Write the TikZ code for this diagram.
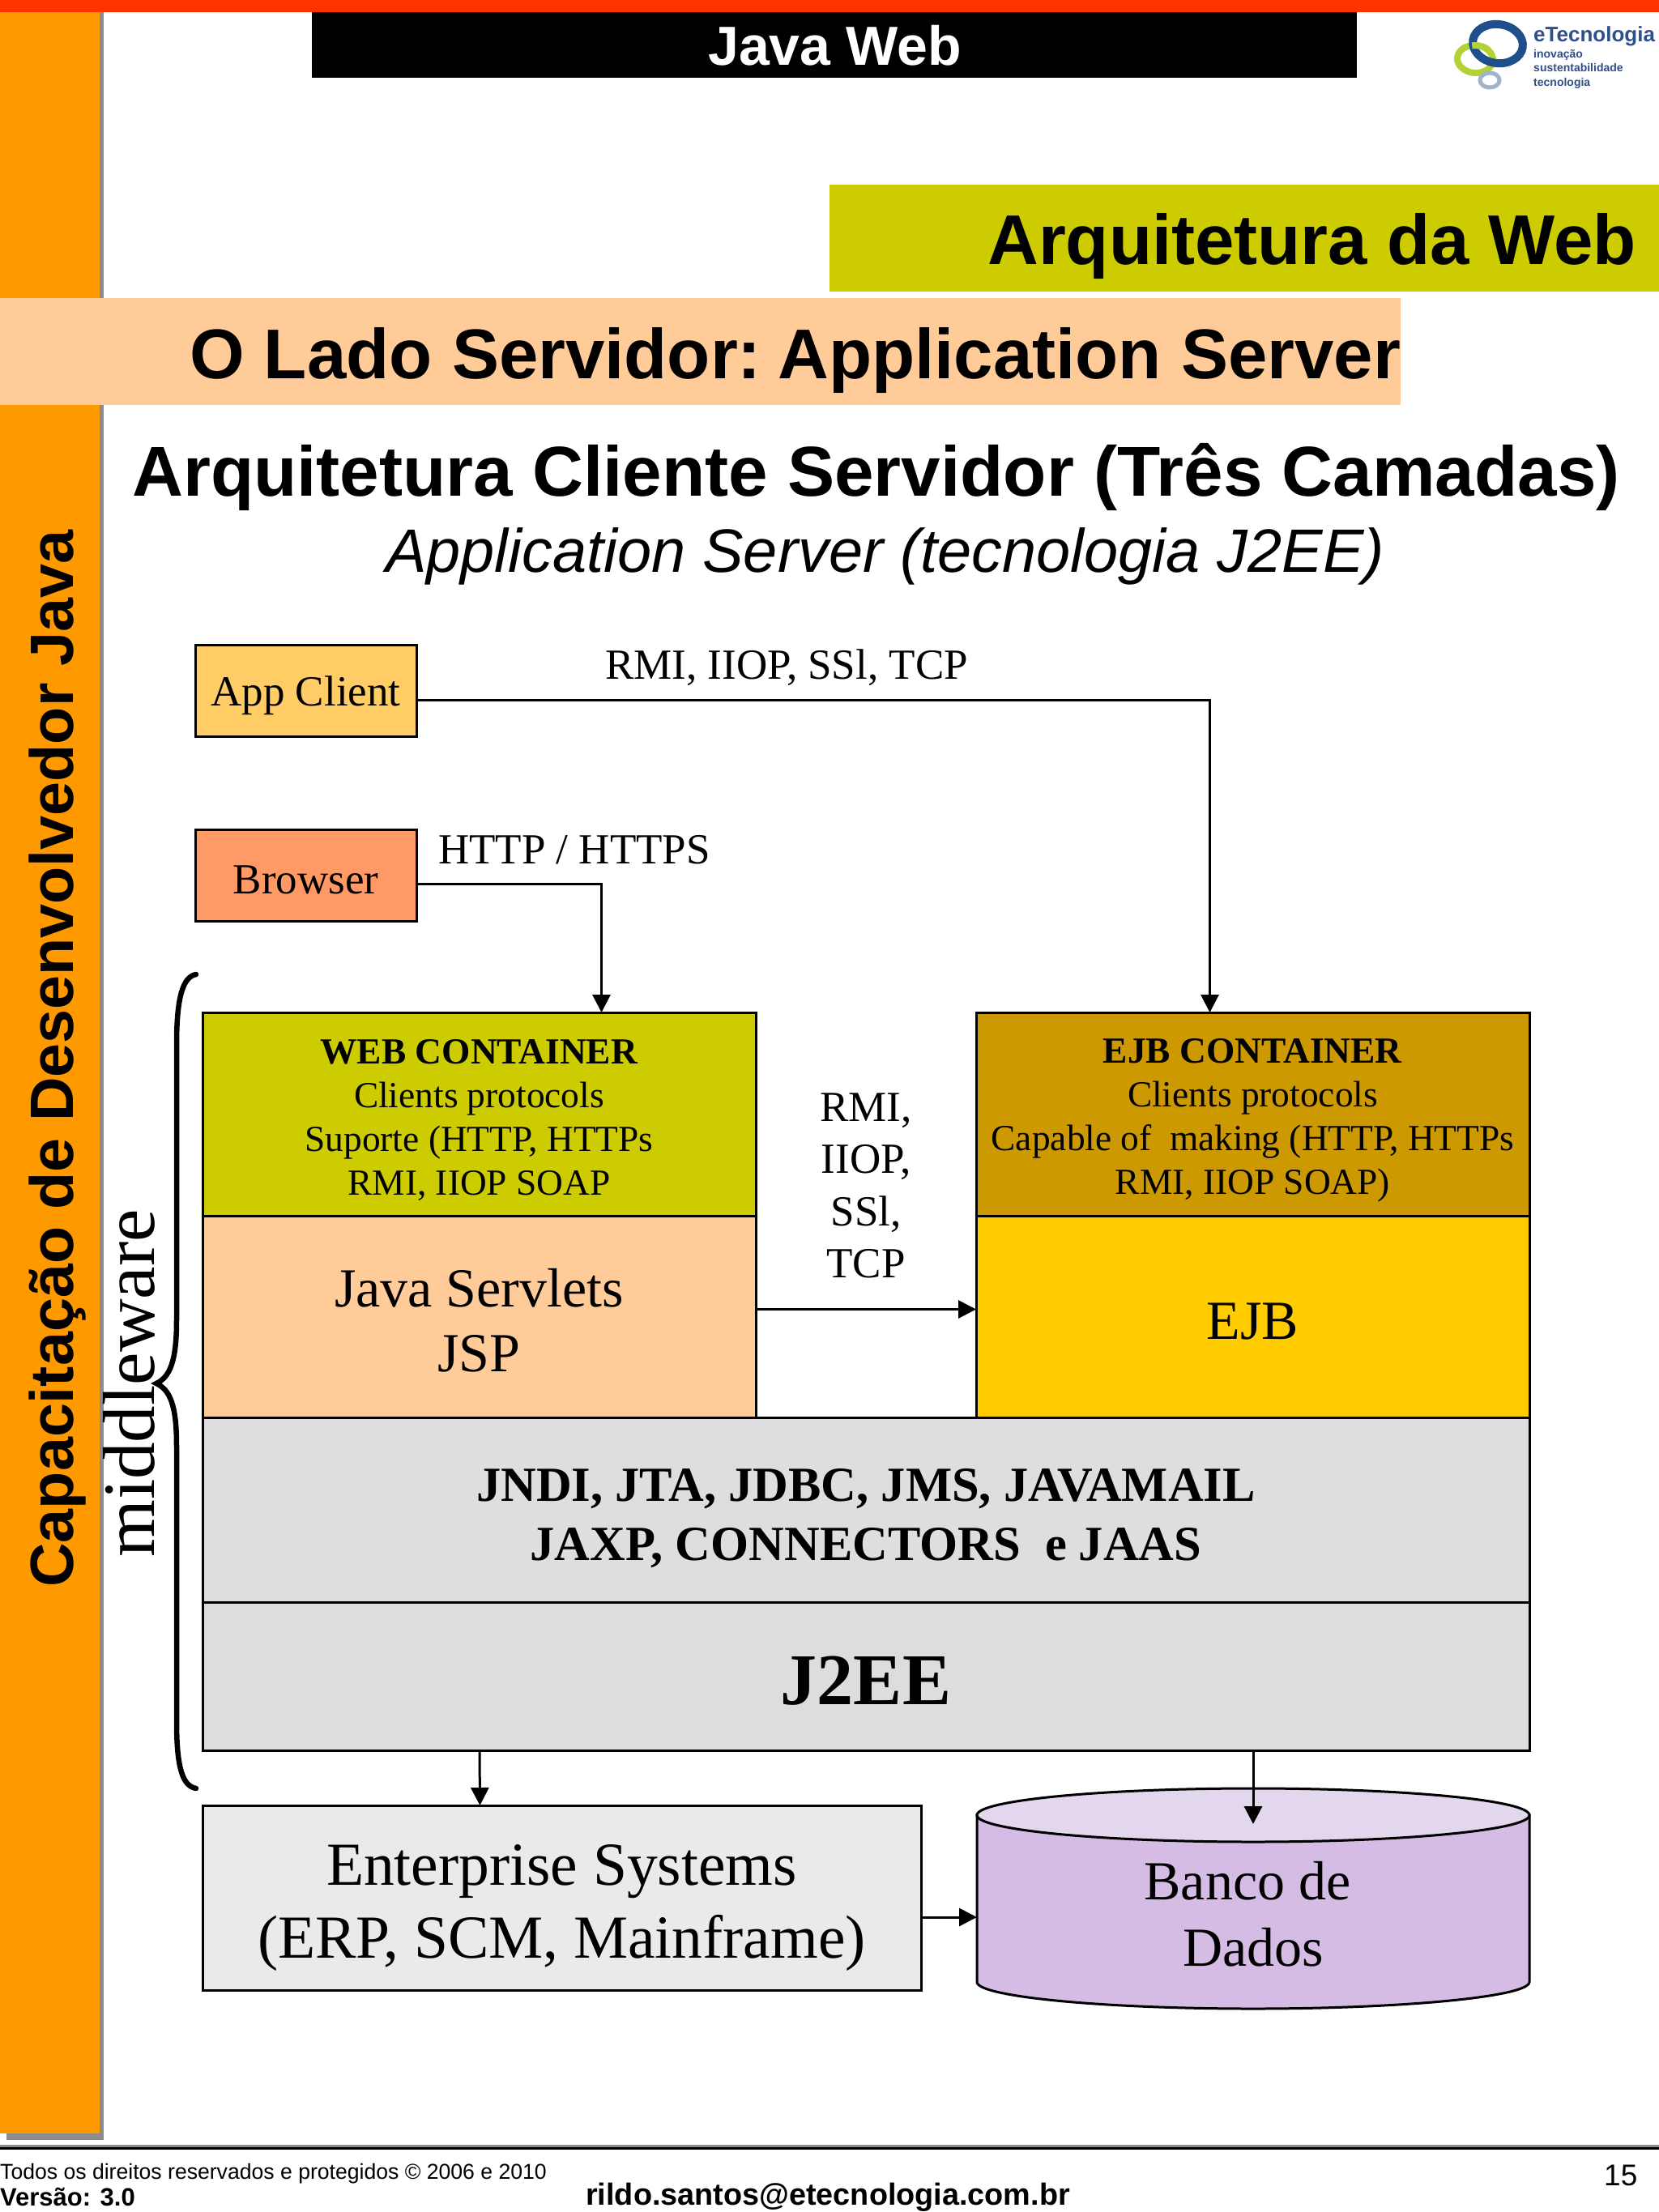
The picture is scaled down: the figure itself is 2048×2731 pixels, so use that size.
\documentclass[tikz,border=0pt]{standalone}
\usepackage{fontspec}
\usepackage{tikz}
\usetikzlibrary{arrows.meta}
\setmainfont{Liberation Serif}
\newfontfamily\headfont{Liberation Sans}
\newcommand{\fsz}[2]{\fontsize{#1}{#2}\selectfont}
\newcommand{\lift}[1]{\rule{0pt}{#1pt}}
\definecolor{barred}{HTML}{FF3300}
\definecolor{barorange}{HTML}{FF9900}
\definecolor{barshadow}{HTML}{8C8C8C}
\definecolor{lime}{HTML}{CCCC00}
\definecolor{peach}{HTML}{FFCC99}
\definecolor{ochre}{HTML}{CC9900}
\definecolor{gold}{HTML}{FFCC00}
\definecolor{appfill}{HTML}{FFCC66}
\definecolor{browserfill}{HTML}{FF9966}
\definecolor{apifill}{HTML}{DFDDDF}
\definecolor{jeefill}{HTML}{DDDDDD}
\definecolor{sysfill}{HTML}{EAEAEA}
\definecolor{dbbody}{HTML}{D4BCE4}
\definecolor{dbtop}{HTML}{E3D7EE}
\definecolor{logoblue}{HTML}{1F4E8C}
\definecolor{logotext}{HTML}{2F4F8A}
\definecolor{logolime}{HTML}{B2D235}
\definecolor{logogray}{HTML}{9DB4CC}
\tikzset{
  box/.style={draw=black, line width=3pt, inner sep=0pt, outer sep=0pt, anchor=north west, align=center},
  flow/.style={draw=black, line width=3pt, -{Triangle[width=22pt,length=22pt]}},
  sans/.style={inner sep=0pt, anchor=base west, text=black},
  label/.style={inner sep=0pt, anchor=base, align=center, font=\fsz{53}{64.5}}
}
\begin{document}
\begin{tikzpicture}[x=1pt,y=-1pt]
  \useasboundingbox (0,0) rectangle (2048,2731);
  \fill[white] (0,0) rectangle (2048,2731);
  \fill[barshadow] (8,14) rectangle (128,2642);
  \fill[barorange] (0,14) rectangle (123,2634);
  \fill[barred] (0,0) rectangle (2048,15);
  \fill[black] (385,15) rectangle (1675,96);
  \fill[lime] (1024,228) rectangle (2048,360);
  \fill[peach] (0,368) rectangle (1729,500);
  \fill[barshadow] (0,2648) rectangle (2048,2651);
  \fill[black] (0,2651) rectangle (2048,2654);

  \node[sans, text=white, font=\headfont\bfseries\fsz{68}{70}] (title) at (874,80) {Java Web};
  \node[sans, font=\headfont\bfseries\fsz{87}{90}] (section) at (1219,326) {Arquitetura da Web};
  \node[sans, font=\headfont\bfseries\fsz{87}{90}] (topic) at (234,467) {O Lado Servidor:\hspace{-12pt} Application Server};
  \node[sans, font=\headfont\bfseries\fsz{87.2}{90}] (heading) at (163,612) {Arquitetura Cliente Servidor (Três Camadas)};
  \node[sans, font=\headfont\itshape\fsz{75.7}{80}] (subheading) at (476,706) {Application Server (tecnologia J2EE)};
  \node[inner sep=0pt, anchor=base, rotate=90, font=\headfont\bfseries\fsz{75.5}{80}] (course) at (90,1307) {Capacitação de Desenvolvedor Java};

  \draw[logolime, line width=8pt, rotate around={-5:(1821,73)}] (1821,73) ellipse (22 and 17);
  \draw[logoblue, line width=10pt, rotate around={-8:(1849,54)}] (1849,54) ellipse (31 and 24);
  \draw[logolime, line width=8pt] (1817.2,56.3) arc[start angle=-100, end angle=-40, x radius=22, y radius=17];
  \draw[logogray, line width=5pt] (1839,99) ellipse (12 and 9);
  \node[sans, text=logotext, font=\headfont\bfseries\fsz{26}{28}] (logoname) at (1893,51) {eTecnologia};
  \node[sans, text=logotext, font=\headfont\bfseries\fsz{14}{17.4}, align=left, anchor=north west] (logotag) at (1893,61) {inovação\\sustentabilidade\\tecnologia};

  \node[box, fill=appfill, minimum width=273pt, minimum height=113pt, font=\fsz{53}{60}] (appclient) at (241,796) {\lift{50}App Client};
  \node[box, fill=browserfill, minimum width=273pt, minimum height=113pt, font=\fsz{53}{60}] (browser) at (241,1024) {\lift{46}Browser};
  \node[label, anchor=base west] (rmilabel) at (747,838) {RMI, IIOP, SSl, TCP};
  \node[label, anchor=base west] (httplabel) at (541,1066) {HTTP / HTTPS};

  \node[box, fill=lime, minimum width=683pt, minimum height=251pt, font=\fsz{45.4}{54}] (webhead) at (250,1250) {\lift{44}\textbf{WEB CONTAINER}\\Clients protocols\\Suporte (HTTP, HTTPs\\RMI, IIOP SOAP};
  \node[box, fill=peach, minimum width=683pt, minimum height=249pt, font=\fsz{68}{80}] (webbody) at (250,1501) {\lift{56}Java Servlets\\JSP};
  \node[box, fill=ochre, minimum width=683pt, minimum height=251pt, font=\fsz{45.4}{54}] (ejbhead) at (1205,1250) {\lift{46}\textbf{EJB CONTAINER}\\Clients protocols\\Capable of\ \ making (HTTP, HTTPs\\RMI, IIOP SOAP)};
  \node[box, fill=gold, minimum width=683pt, minimum height=249pt, font=\fsz{68}{80}] (ejbbody) at (1205,1501) {\lift{56}EJB};
  \node[box, fill=apifill, minimum width=1638pt, minimum height=228pt, font=\bfseries\fsz{60.5}{73}] (apis) at (250,1750) {\lift{61}JNDI, JTA, JDBC, JMS, JAVAMAIL\\JAXP, CONNECTORS\ \ e JAAS};
  \node[box, fill=jeefill, minimum width=1638pt, minimum height=183pt, font=\bfseries\fsz{90}{95}] (jee) at (250,1978) {\lift{71}J2EE};
  \node[box, fill=sysfill, minimum width=887pt, minimum height=228pt, font=\fsz{75.5}{90}] (enterprise) at (250,2229) {\lift{76}Enterprise Systems\\(ERP, SCM, Mainframe)};
  \node[label, anchor=center] (midlabel) at (1069,1464) {RMI,\\IIOP,\\SSl,\\TCP};

  \draw[fill=dbbody, line width=3pt] (1206,2241) -- (1206,2447) .. controls (1206,2465) and (1360,2480) .. (1547,2480) .. controls (1734,2480) and (1888,2465) .. (1888,2447) -- (1888,2241) -- cycle;
  \draw[fill=dbtop, line width=3pt] (1547,2241) ellipse (341 and 33);
  \node[inner sep=0pt, outer sep=0pt, anchor=north west, minimum width=682pt, minimum height=272pt, align=center, font=\fsz{68}{82}] (db) at (1206,2208) {\lift{85}Banco de\hspace*{14pt}\\Dados};

  \draw[line width=6.5pt, line cap=round] (242,1203) .. controls (226,1206) and (218,1230) .. (218,1290) -- (218,1630) .. controls (218,1680) and (210,1700) .. (193,1708) .. controls (210,1716) and (218,1735) .. (218,1785) -- (218,2125) .. controls (218,2185) and (226,2205) .. (242,2208);
  \node[inner sep=0pt, anchor=base, rotate=90, font=\fsz{91}{95}] (middleware) at (190,1708) {middleware};

  \draw[flow] ([yshift=-12pt]appclient.east) -| ([xshift=-53pt]ejbhead.north);
  \draw[flow] ([yshift=-11pt]browser.east) -| ([xshift=151pt]webhead.north);
  \draw[flow] ([yshift=9pt]webbody.east) -- ([yshift=9pt]ejbbody.west);
  \draw[flow] ([xshift=-477pt]jee.south) -- ([xshift=-101pt]enterprise.north);
  \draw[flow] ([xshift=478pt]jee.south) -- ([yshift=-44pt]db.north);
  \draw[flow] ([yshift=-24pt]enterprise.east) -- ([yshift=-23pt]db.west);

  \node[sans, font=\headfont\fsz{26.6}{30}] (rights) at (0,2690) {Todos os direitos reservados e protegidos © 2006 e 2010};
  \node[sans, font=\headfont\bfseries\fsz{31}{33}] (version) at (0,2723) {Versão: 3.0};
  \node[sans, font=\headfont\bfseries\fsz{37.8}{40}] (email) at (723,2722) {rildo.santos@etecnologia.com.br};
  \node[sans, font=\headfont\fsz{37}{40}] (page) at (1980,2698) {15};
\end{tikzpicture}
\end{document}
